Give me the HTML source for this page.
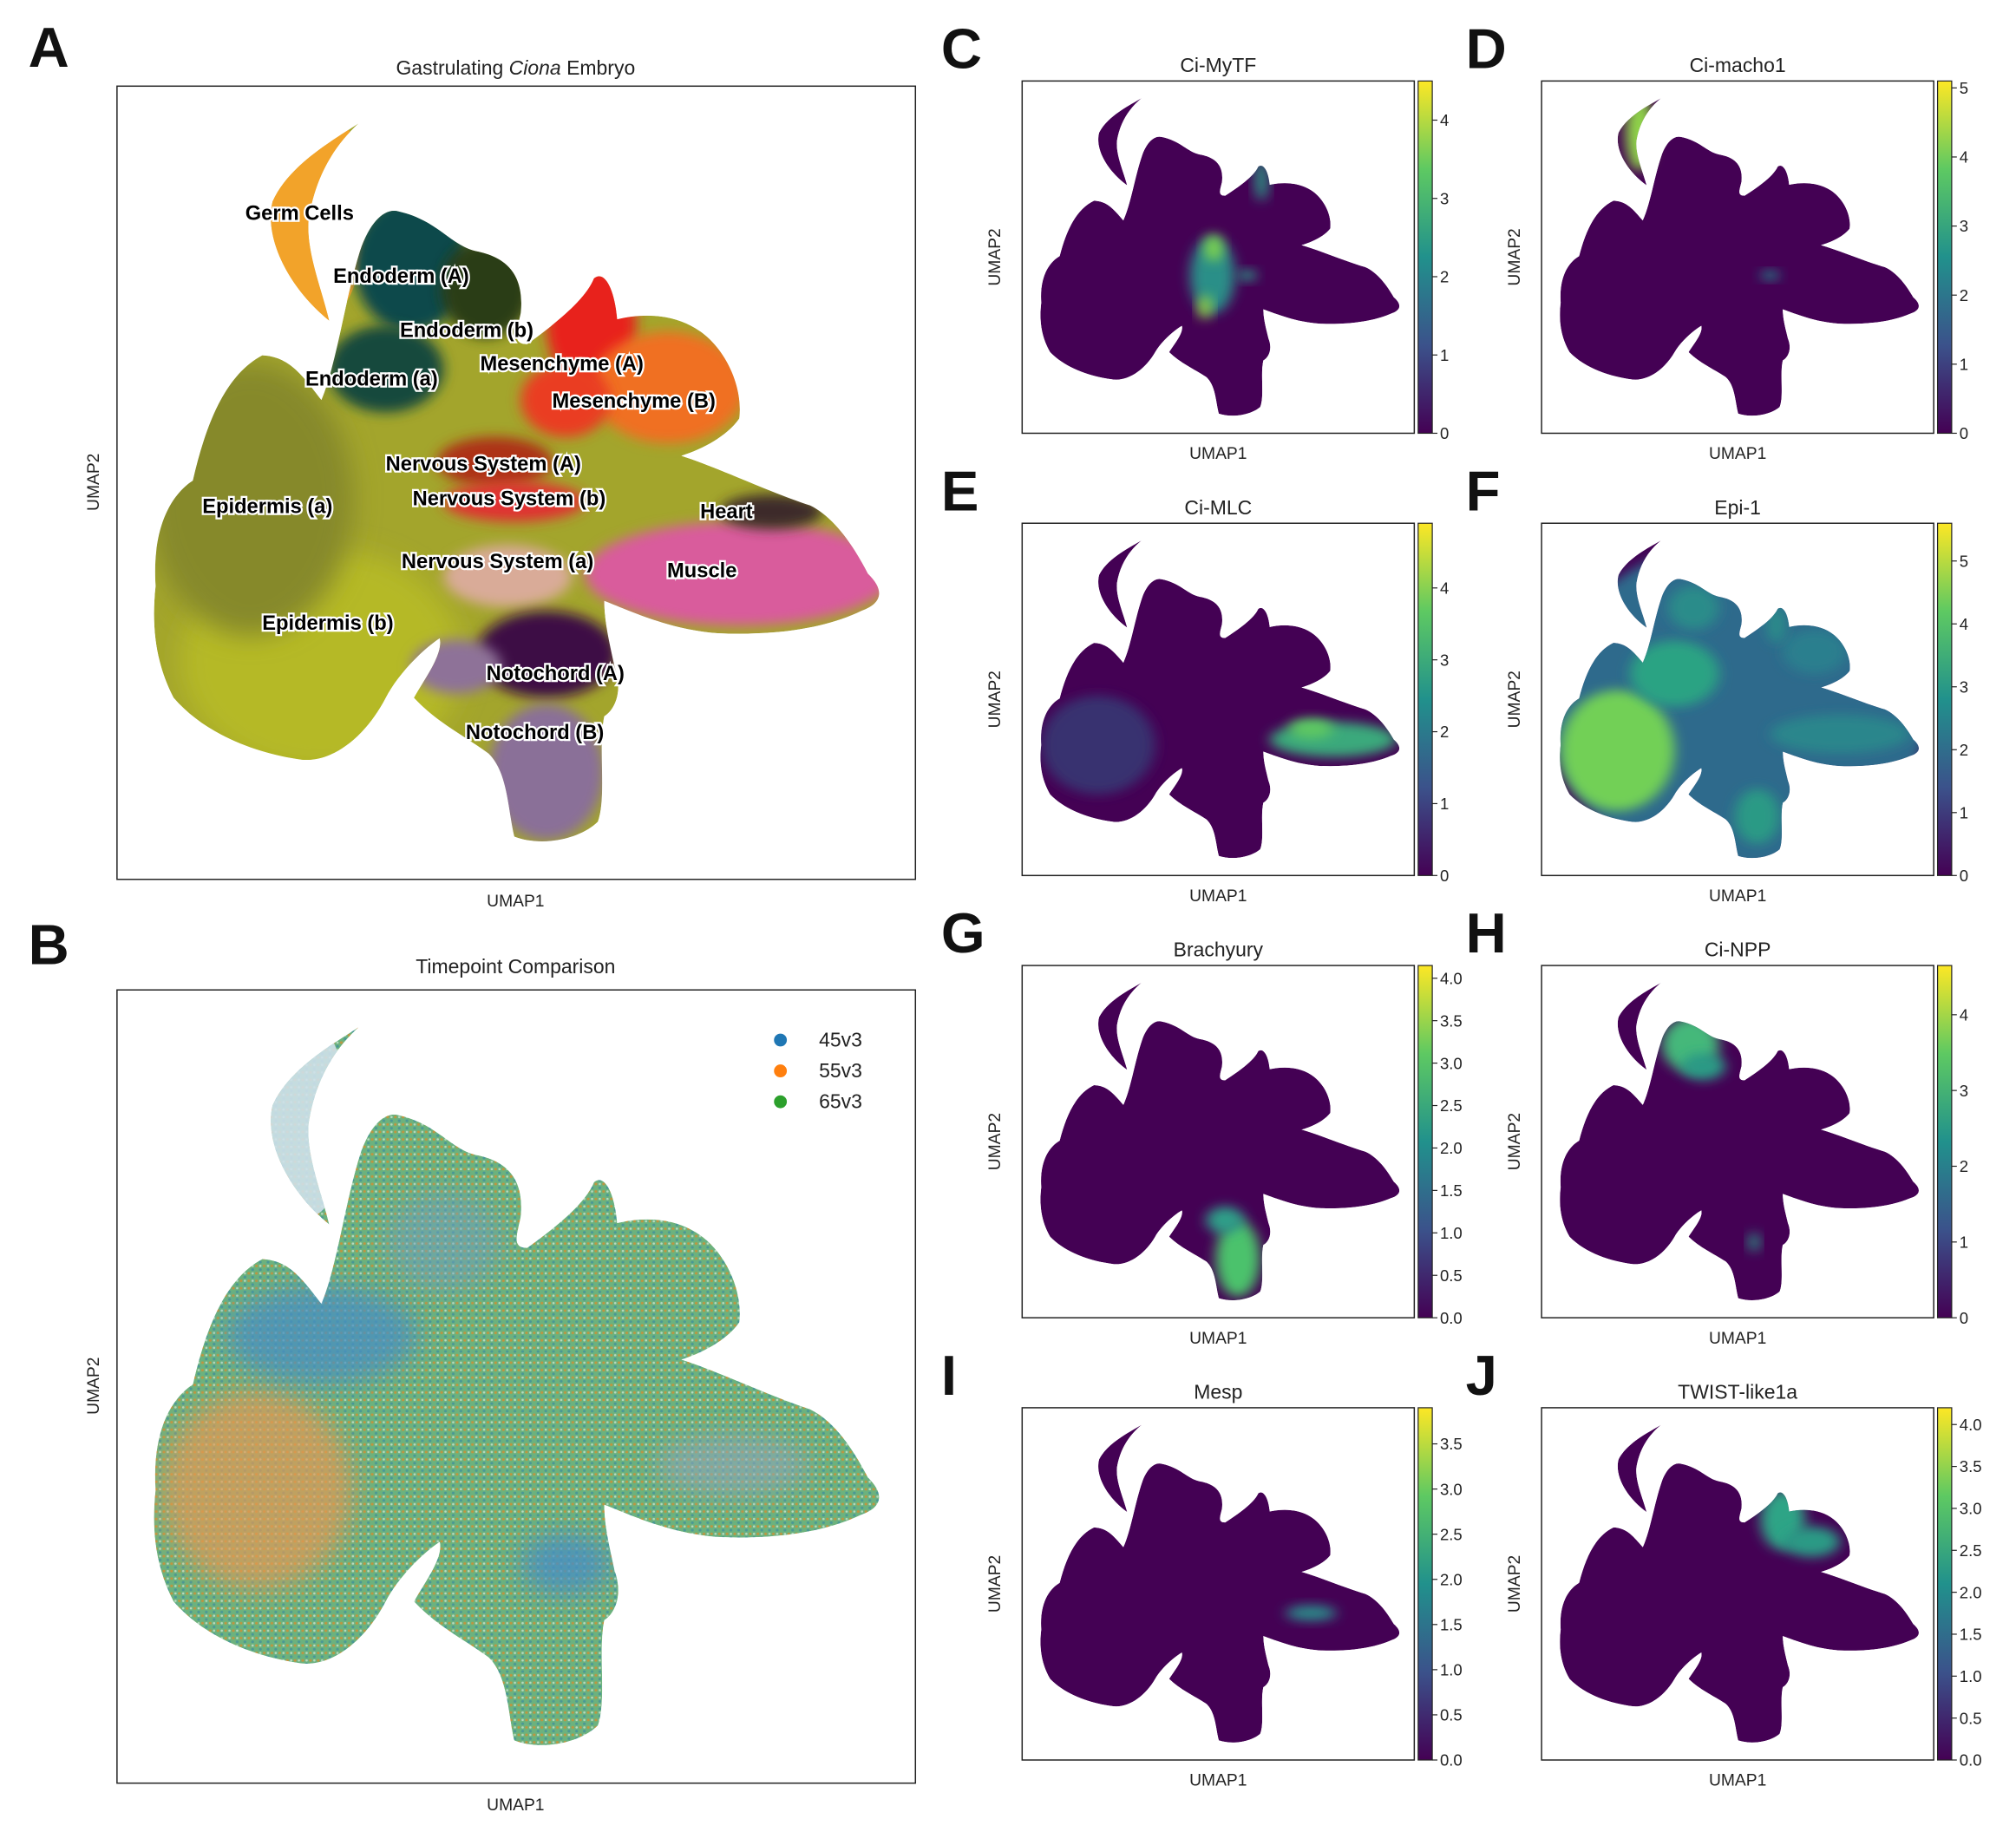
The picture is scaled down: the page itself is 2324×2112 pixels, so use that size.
<!DOCTYPE html>
<html><head><meta charset="utf-8">
<style>
html,body{margin:0;padding:0;background:#fff;}
svg{display:block;font-family:"Liberation Sans","DejaVu Sans",sans-serif;}
.lab{font-weight:bold;font-size:16px;fill:#000;stroke:#fff;stroke-width:3px;paint-order:stroke;}
.ax{font-size:13px;fill:#222;}
.tt{font-size:15.5px;fill:#222;}
.big{font-size:44px;font-weight:bold;fill:#111;}
.tk{font-size:12.5px;fill:#222;}
</style></head><body>
<svg id="fig" width="2324" height="2112" viewBox="0 0 1568 1425" preserveAspectRatio="none" xmlns="http://www.w3.org/2000/svg">
<defs>
<filter id="bl" x="-50%" y="-50%" width="200%" height="200%"><feGaussianBlur stdDeviation="10"/></filter>
<filter id="bl2" x="-50%" y="-50%" width="200%" height="200%"><feGaussianBlur stdDeviation="5"/></filter>
<linearGradient id="vir" x1="0" y1="1" x2="0" y2="0">
<stop offset="0" stop-color="#440154"/><stop offset="0.25" stop-color="#3b528b"/><stop offset="0.5" stop-color="#21918c"/><stop offset="0.75" stop-color="#5ec962"/><stop offset="1" stop-color="#fde725"/></linearGradient>
<g id="sil">
<path d="M279,97 C260,110 225,130 212,160 C205,190 225,230 256,256 C250,230 238,200 240,175 C245,140 260,115 279,97 Z"/>
<path d="M121,470 C118,420 135,395 150,385 C160,340 175,300 204,284 C225,285 235,300 250,320 C262,290 268,240 280,200 C288,175 300,165 310,168 C340,175 350,195 370,200 C395,205 408,220 405,250 C402,265 398,275 410,275 C430,260 455,240 462,222 C470,215 478,230 480,255 C500,250 525,250 545,265 C565,280 578,310 575,335 C565,350 545,360 530,365 C560,375 600,395 630,405 C650,415 665,440 675,460 C690,475 684,485 670,490 C640,505 600,510 558,508 C520,505 490,490 470,482 C470,500 475,520 478,535 C485,555 478,570 470,575 C465,600 472,640 465,660 C450,675 420,680 400,672 C395,650 395,620 380,605 C360,590 340,580 322,560 C330,545 345,525 342,512 C330,520 310,540 300,560 C285,590 260,612 235,610 C200,605 160,590 135,560 C120,530 118,500 121,470 Z"/>
</g>
<clipPath id="silclip">
<path d="M279,97 C260,110 225,130 212,160 C205,190 225,230 256,256 C250,230 238,200 240,175 C245,140 260,115 279,97 Z"/>
<path d="M121,470 C118,420 135,395 150,385 C160,340 175,300 204,284 C225,285 235,300 250,320 C262,290 268,240 280,200 C288,175 300,165 310,168 C340,175 350,195 370,200 C395,205 408,220 405,250 C402,265 398,275 410,275 C430,260 455,240 462,222 C470,215 478,230 480,255 C500,250 525,250 545,265 C565,280 578,310 575,335 C565,350 545,360 530,365 C560,375 600,395 630,405 C650,415 665,440 675,460 C690,475 684,485 670,490 C640,505 600,510 558,508 C520,505 490,490 470,482 C470,500 475,520 478,535 C485,555 478,570 470,575 C465,600 472,640 465,660 C450,675 420,680 400,672 C395,650 395,620 380,605 C360,590 340,580 322,560 C330,545 345,525 342,512 C330,520 310,540 300,560 C285,590 260,612 235,610 C200,605 160,590 135,560 C120,530 118,500 121,470 Z"/>
</clipPath>
<pattern id="dots" width="6" height="6" patternUnits="userSpaceOnUse"><circle cx="1.5" cy="1.5" r="1.1" fill="#ff7f0e" opacity="0.55"/><circle cx="4.5" cy="4.5" r="1.1" fill="#1f77b4" opacity="0.45"/><circle cx="4.5" cy="1.5" r="0.9" fill="#fff" opacity="0.5"/></pattern>
</defs>

<g>
<text class="big" x="22" y="52">A</text>
<text class="tt" x="401" y="58" text-anchor="middle">Gastrulating <tspan font-style="italic">Ciona</tspan> Embryo</text>
<rect x="91" y="67" width="621" height="617" fill="none" stroke="#222" stroke-width="1"/>
<g transform="translate(0,66) scale(1,0.965) translate(0,-66)">
<g clip-path="url(#silclip)">
<use href="#sil" fill="#a3a52c"/>
<ellipse cx="250" cy="530" rx="110" ry="90" fill="#b5b927" filter="url(#bl)"/>
<ellipse cx="195" cy="400" rx="80" ry="110" fill="#86892c" filter="url(#bl)"/>
<ellipse cx="245" cy="170" rx="40" ry="90" fill="#f2a32a"/>
<ellipse cx="320" cy="210" rx="45" ry="55" fill="#0f4a4c" filter="url(#bl2)"/>
<ellipse cx="378" cy="230" rx="35" ry="40" fill="#2c3e16" filter="url(#bl2)"/>
<ellipse cx="300" cy="295" rx="45" ry="35" fill="#184a3c" filter="url(#bl2)"/>
<ellipse cx="460" cy="260" rx="35" ry="50" fill="#e8241e" filter="url(#bl2)"/>
<ellipse cx="520" cy="310" rx="60" ry="45" fill="#f07022" filter="url(#bl2)"/>
<ellipse cx="440" cy="320" rx="35" ry="30" fill="#ea3d22" filter="url(#bl2)"/>
<ellipse cx="385" cy="370" rx="45" ry="20" fill="#ad3018" filter="url(#bl2)"/>
<ellipse cx="400" cy="402" rx="55" ry="16" fill="#e03232" filter="url(#bl2)"/>
<ellipse cx="575" cy="460" rx="120" ry="42" fill="#d95c9c" filter="url(#bl2)"/>
<ellipse cx="600" cy="410" rx="40" ry="14" fill="#3c2a2a" filter="url(#bl2)"/>
<ellipse cx="395" cy="462" rx="50" ry="25" fill="#d9ab98" filter="url(#bl2)"/>
<ellipse cx="425" cy="525" rx="55" ry="35" fill="#3d0d45" filter="url(#bl2)"/>
<ellipse cx="355" cy="535" rx="35" ry="22" fill="#8e7298" filter="url(#bl2)"/>
<ellipse cx="425" cy="620" rx="45" ry="55" fill="#8a7098" filter="url(#bl2)"/>
</g>
</g>
<g id="clabels"></g>
<text class="ax" x="401" y="705" text-anchor="middle">UMAP1</text>
<text class="ax" x="77" y="375" text-anchor="middle" transform="rotate(-90 77 375)">UMAP2</text>
</g>

<g>
<text class="big" x="22" y="750">B</text>
<text class="tt" x="401" y="757" text-anchor="middle">Timepoint Comparison</text>
<rect x="91" y="770" width="621" height="617" fill="none" stroke="#222" stroke-width="1"/>
<g transform="translate(0,769) scale(1,0.965) translate(0,-66)">
<g clip-path="url(#silclip)">
<use href="#sil" fill="#6cb27e"/>
<rect x="100" y="60" width="600" height="620" fill="url(#dots)"/>
<ellipse cx="200" cy="470" rx="75" ry="80" fill="#e39a55" opacity="0.7" filter="url(#bl)"/>
<ellipse cx="250" cy="345" rx="75" ry="40" fill="#4a8fc2" opacity="0.75" filter="url(#bl)"/>
<ellipse cx="345" cy="270" rx="45" ry="40" fill="#6f9ec0" opacity="0.5" filter="url(#bl)"/>
<ellipse cx="440" cy="530" rx="35" ry="25" fill="#4a8fc2" opacity="0.8" filter="url(#bl)"/>
<ellipse cx="570" cy="450" rx="60" ry="25" fill="#8fa6b8" opacity="0.6" filter="url(#bl)"/>
<ellipse cx="240" cy="170" rx="30" ry="80" fill="#cfe0ea" opacity="0.9"/>
</g>
</g>
<g id="legend"></g>
<text class="ax" x="401" y="1408" text-anchor="middle">UMAP1</text>
<text class="ax" x="77" y="1078" text-anchor="middle" transform="rotate(-90 77 1078)">UMAP2</text>
</g>

<g id="genes"></g>
</svg>
<script>
const NS="http://www.w3.org/2000/svg";
const clusterNames=["Germ Cells","Endoderm (A)","Endoderm (b)","Endoderm (a)","Mesenchyme (A)","Mesenchyme (B)","Nervous System (A)","Nervous System (b)","Heart","Epidermis (a)","Nervous System (a)","Muscle","Epidermis (b)","Notochord (A)","Notochord (B)"];
const clusterX=[233,312,363,289,437,493,376,396,565,208,387,546,255,432,416];
const clusterY=[171,220,262,300,288,317,366,393,403,399,442,449,490,529,575];
const legendLabels=["45v3","55v3","65v3"];
const legendColors=["#1f77b4","#ff7f0e","#2ca02c"];
const geneNames=["Ci-MyTF","Ci-macho1","Ci-MLC","Epi-1","Brachyury","Ci-NPP","Mesp","TWIST-like1a"];
const geneLetters=["C","D","E","F","G","H","I","J"];
const geneMax=[4.5,5.1,4.9,5.6,4.15,4.65,3.9,4.2];
const geneTicks=[[0,1,2,3,4],[0,1,2,3,4,5],[0,1,2,3,4],[0,1,2,3,4,5],[0,0.5,1,1.5,2,2.5,3,3.5,4],[0,1,2,3,4],[0,0.5,1,1.5,2,2.5,3,3.5],[0,0.5,1,1.5,2,2.5,3,3.5,4]];
const geneDecimals=[0,0,0,0,1,0,1,1];
const geneSpots=[
 [[390,420,35,70,"#2a8f88"],[392,370,14,25,"#7fd34e"],[378,478,10,22,"#9ad840"],[467,245,10,40,"#2a9a85"],[445,420,14,10,"#2a9a85"]],
 [[245,160,22,70,"#8fd448"],[450,420,14,8,"#21918c"]],
 [[580,460,100,32,"#3aa97c"],[545,440,35,18,"#5ec962"],[210,470,90,90,"#38306f"]],
 [[400,400,300,300,"#2e6a8c"],[210,480,90,110,"#72d056"],[300,340,70,60,"#2aa383"],[330,220,40,40,"#2c8c8a"],[560,450,110,35,"#2a868c"],[520,300,50,40,"#2a7f8e"],[430,600,35,50,"#2a9a85"],[460,250,15,35,"#2c8c8a"]],
 [[430,600,35,70,"#4cc26c"],[410,530,30,25,"#2e9e88"]],
 [[325,210,45,50,"#45b87a"],[345,250,35,25,"#2a9a85"],[425,570,8,18,"#2a9a85"]],
 [[545,440,40,14,"#2c8c8a"]],
 [[470,270,35,55,"#2fa486"],[515,310,45,28,"#2a9a85"]]
];
const clabels=document.getElementById('clabels');
clusterNames.forEach((n,i)=>{const t=document.createElementNS(NS,'text');t.setAttribute('class','lab');t.setAttribute('x',clusterX[i]);t.setAttribute('y',clusterY[i]);t.setAttribute('text-anchor','middle');t.textContent=n;


clabels.appendChild(t);});
const leg=document.getElementById('legend');
legendLabels.forEach((l,i)=>{const y=809+i*24;
const c=document.createElementNS(NS,'circle');c.setAttribute('cx',607);c.setAttribute('cy',y);c.setAttribute('r',5);c.setAttribute('fill',legendColors[i]);


leg.appendChild(c);
const t=document.createElementNS(NS,'text');t.setAttribute('x',637);t.setAttribute('y',y+5);t.setAttribute('font-size','15.5');t.setAttribute('fill','#222');t.textContent=l;


leg.appendChild(t);});
const G=document.getElementById('genes');
function el(tag,attrs,parent){const e=document.createElementNS(NS,tag);for(const k in attrs)e.setAttribute(k,attrs[k]);parent.appendChild(e);return e;}
geneNames.forEach((name,i)=>{
 const col=i%2,row=Math.floor(i/2);
 const x0=col?1199:795, y0=[63,407,751,1095][row], w=305,h=274;
 const g=el('g',{},G);
 
 
 const L=el('text',{class:'big',x:col?1140:732,y:y0-10},g);L.textContent=geneLetters[i];
 
 
 const T=el('text',{class:'tt',x:x0+w/2,y:y0-7,'text-anchor':'middle'},g);T.textContent=name;
 
 
 const emb=el('g',{transform:`translate(${x0},${y0}) scale(0.495,0.427) translate(-91,-66)`},g);
 const cg=el('g',{'clip-path':'url(#silclip)'},emb);
 el('use',{href:'#sil',fill:'#440154'},cg);
 geneSpots[i].forEach(s=>{const e=el('ellipse',{cx:s[0],cy:s[1],rx:s[2],ry:s[3],fill:s[4],filter:'url(#bl)'},cg);
  
  });
 el('rect',{x:x0,y:y0,width:w,height:h,fill:'none',stroke:'#222','stroke-width':1},g);
 const X=el('text',{class:'ax',x:x0+w/2,y:y0+h+20,'text-anchor':'middle'},g);X.textContent='UMAP1';
 
 
 const yx=x0-17,yy=y0+h/2;
 const Y=el('text',{class:'ax',x:yx,y:yy,'text-anchor':'middle',transform:`rotate(-90 ${yx} ${yy})`},g);Y.textContent='UMAP2';
 
 
 const cx=x0+w+3;
 const cb=el('rect',{x:cx,y:y0,width:11,height:h,fill:'url(#vir)',stroke:'#222','stroke-width':0.8},g);
 
 
 geneTicks[i].forEach(v=>{const ty=y0+h-v/geneMax[i]*h;
  el('line',{x1:cx+11,x2:cx+15,y1:ty,y2:ty,stroke:'#222','stroke-width':0.8},g);
  const t=el('text',{class:'tk',x:cx+17,y:ty+4.5},g);t.textContent=v.toFixed(geneDecimals[i]);
  
  });
});
</script>
</body></html>
